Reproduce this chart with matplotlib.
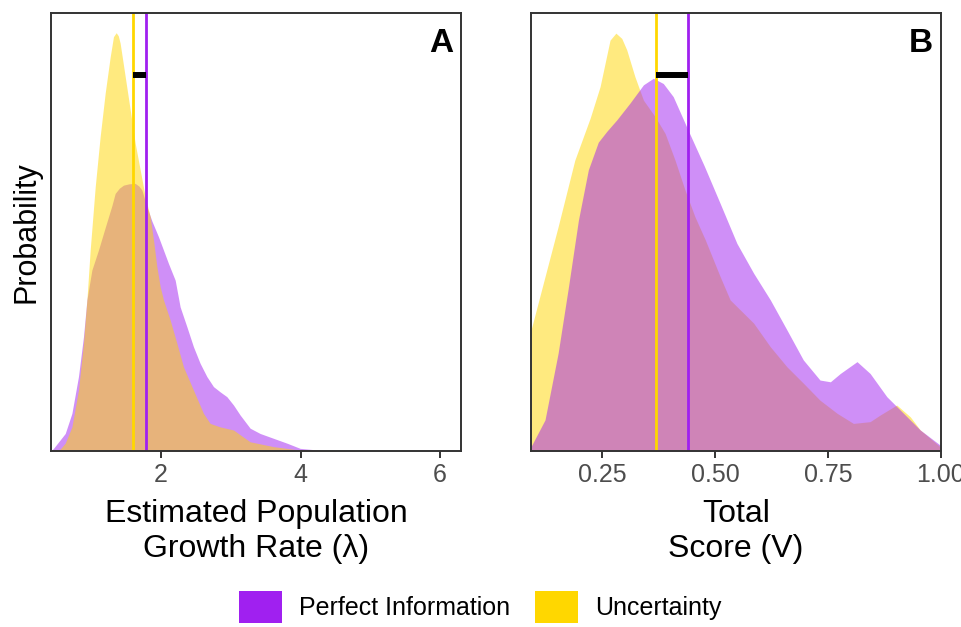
import matplotlib
matplotlib.use("Agg")
import matplotlib.pyplot as plt
from matplotlib.patches import Patch

plt.rcParams['font.family'] = ['Liberation Sans', 'DejaVu Sans']

# === COLORES ===
PURPLE = "#A020F0"
GOLD = "#FFD700"

# === PANEL A: tasa de crecimiento (densidad relativa) ===
a_perf_x = [0.42, 0.456, 0.624, 0.720, 0.814, 0.886, 0.935, 1.006, 1.101, 1.197, 1.293,
            1.340, 1.400, 1.460, 1.540, 1.627, 1.680, 1.723, 1.795, 1.867, 1.962, 2.105,
            2.201, 2.272, 2.368, 2.463, 2.559, 2.655, 2.750, 2.846, 2.942, 3.037, 3.133,
            3.276, 3.419, 3.610, 3.802, 3.993, 4.327, 5.0, 6.3]
a_perf_y = [0.0, 0.006, 0.040, 0.086, 0.170, 0.261, 0.345, 0.413, 0.459, 0.510, 0.560,
            0.588, 0.600, 0.607, 0.610, 0.611, 0.605, 0.596, 0.558, 0.525, 0.489, 0.428,
            0.390, 0.329, 0.284, 0.238, 0.200, 0.170, 0.147, 0.135, 0.124, 0.105, 0.082,
            0.052, 0.040, 0.029, 0.018, 0.006, 0.001, 0.0, 0.0]

a_unc_x = [0.42, 0.55, 0.624, 0.720, 0.814, 0.886, 0.935, 0.982, 1.054, 1.125, 1.197,
           1.269, 1.316, 1.355, 1.385, 1.412, 1.484, 1.556, 1.627, 1.699, 1.771, 1.842,
           1.890, 1.938, 1.986, 2.033, 2.129, 2.225, 2.320, 2.463, 2.606, 2.702, 2.846,
           3.037, 3.133, 3.276, 3.610, 3.993, 5.0, 6.3]
a_unc_y = [0.0, 0.004, 0.018, 0.055, 0.139, 0.246, 0.345, 0.459, 0.603, 0.718, 0.817,
           0.900, 0.946, 0.955, 0.948, 0.931, 0.855, 0.779, 0.703, 0.642, 0.581, 0.535,
           0.482, 0.421, 0.375, 0.345, 0.299, 0.246, 0.192, 0.139, 0.086, 0.063, 0.055,
           0.048, 0.037, 0.021, 0.010, 0.002, 0.0, 0.0]

a_mean_perf = 1.785
a_mean_unc = 1.589

# === PANEL B: puntuación total ===
b_perf_x = [0.092, 0.123, 0.152, 0.175, 0.197, 0.219, 0.241, 0.260, 0.282, 0.311, 0.341,
            0.363, 0.385, 0.407, 0.441, 0.476, 0.511, 0.548, 0.585, 0.622, 0.659, 0.695,
            0.732, 0.755, 0.777, 0.814, 0.843, 0.880, 0.917, 0.954, 1.0]
b_perf_y = [0.010, 0.071, 0.223, 0.375, 0.527, 0.642, 0.705, 0.730, 0.756, 0.794, 0.836,
            0.851, 0.839, 0.809, 0.730, 0.650, 0.565, 0.474, 0.406, 0.345, 0.276, 0.208,
            0.162, 0.158, 0.177, 0.204, 0.177, 0.124, 0.086, 0.048, 0.012]

b_unc_x = [0.092, 0.123, 0.152, 0.189, 0.223, 0.245, 0.267, 0.280, 0.293, 0.304, 0.322,
           0.341, 0.367, 0.389, 0.411, 0.433, 0.455, 0.478, 0.511, 0.533, 0.585, 0.622,
           0.659, 0.695, 0.732, 0.770, 0.806, 0.843, 0.865, 0.902, 0.932, 0.954, 1.0]
b_unc_y = [0.276, 0.398, 0.512, 0.664, 0.760, 0.832, 0.938, 0.954, 0.942, 0.916, 0.855,
           0.801, 0.763, 0.725, 0.664, 0.596, 0.535, 0.482, 0.398, 0.345, 0.292, 0.238,
           0.192, 0.155, 0.116, 0.086, 0.063, 0.067, 0.082, 0.105, 0.078, 0.048, 0.008]

b_mean_perf = 0.4406
b_mean_unc = 0.369

BAR_Y = 0.858

fig = plt.figure(figsize=(9.61, 6.27), dpi=100)
axA = fig.add_axes([51 / 961, 1 - 451 / 627, 410 / 961, 438 / 627])
axB = fig.add_axes([531 / 961, 1 - 451 / 627, 410 / 961, 438 / 627])

# Panel A: amarillo encima
axA.fill_between(a_perf_x, a_perf_y, color=PURPLE, alpha=0.5, linewidth=0)
axA.fill_between(a_unc_x, a_unc_y, color=GOLD, alpha=0.5, linewidth=0)
axA.axvline(a_mean_unc, color=GOLD, linewidth=2)
axA.axvline(a_mean_perf, color=PURPLE, linewidth=2)
axA.plot([a_mean_unc, a_mean_perf], [BAR_Y, BAR_Y], color="black", linewidth=4.3,
         solid_capstyle="butt")
axA.set_xlim(0.42, 6.30)
axA.set_xticks([2, 4, 6])
axA.set_xlabel("Estimated Population\nGrowth Rate (λ)", fontsize=23, linespacing=1.25,
               labelpad=8)

# Panel B: morado encima
axB.fill_between(b_unc_x, b_unc_y, color=GOLD, alpha=0.5, linewidth=0)
axB.fill_between(b_perf_x, b_perf_y, color=PURPLE, alpha=0.5, linewidth=0)
axB.axvline(b_mean_unc, color=GOLD, linewidth=2)
axB.axvline(b_mean_perf, color=PURPLE, linewidth=2)
axB.plot([b_mean_unc, b_mean_perf], [BAR_Y, BAR_Y], color="black", linewidth=4.3,
         solid_capstyle="butt")
axB.set_xlim(0.092, 1.0)
axB.set_xticks([0.25, 0.5, 0.75, 1.0])
axB.set_xticklabels(["0.25", "0.50", "0.75", "1.00"])
axB.set_xlabel("Total\nScore (V)", fontsize=23, linespacing=1.25, labelpad=8)

for ax, letter in [(axA, "A"), (axB, "B")]:
    ax.set_ylim(0, 1.0)
    ax.set_yticks([])
    for s in ax.spines.values():
        s.set_color("#333333")
        s.set_linewidth(1.4)
    ax.tick_params(axis="x", length=5, width=1.4, color="#333333", labelsize=18,
                   labelcolor="#4D4D4D", pad=4)
    ax.text(0.98, 0.965, letter, transform=ax.transAxes, ha="right", va="top",
            fontsize=24, fontweight="bold")

fig.text(27 / 961, 1 - 232 / 627, "Probability", rotation=90, fontsize=22,
         ha="center", va="center")

handles = [Patch(facecolor=PURPLE, edgecolor="none", label="Perfect Information"),
           Patch(facecolor=GOLD, edgecolor="none", label="Uncertainty")]
fig.legend(handles=handles, loc="center", bbox_to_anchor=(0.5, 1 - 607 / 627), ncol=2,
           frameon=False, fontsize=18, handlelength=1.72, handleheight=1.6,
           handletextpad=0.68, columnspacing=1.0)

fig.savefig("out.png", dpi=100)
